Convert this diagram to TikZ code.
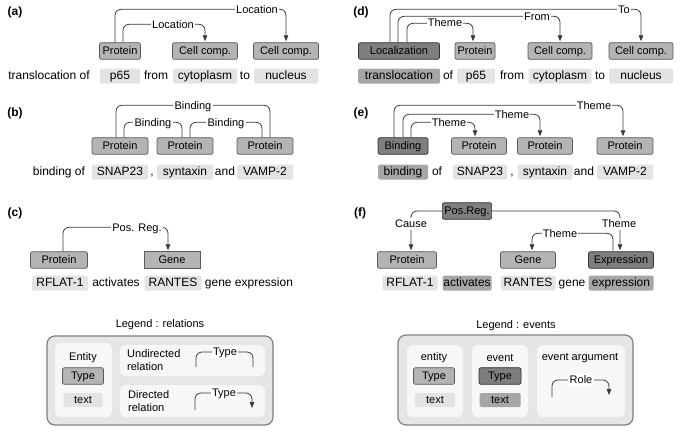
\documentclass[tikz,border=0pt]{standalone}
\usepackage{fontspec}
\setmainfont{Liberation Sans}
\usepackage{tikz}
\usetikzlibrary{arrows.meta,positioning}
\definecolor{entfill}{HTML}{B4B4B4}
\definecolor{evtfill}{HTML}{7E7E7E}
\definecolor{txtfill}{HTML}{E3E3E3}
\definecolor{trgfill}{HTML}{A6A6A6}
\definecolor{legfill}{HTML}{E6E6E6}
\definecolor{arcline}{HTML}{3A3A3A}

\begin{document}
\begin{tikzpicture}[x=1pt, y=-1pt, font=\fontsize{11}{13}\selectfont]
\tikzstyle{ent}=[draw=black!65, line width=0.7pt, fill=entfill, rounded corners=2pt, minimum height=16pt, inner xsep=2pt, text height=8pt, text depth=2pt]
\tikzstyle{evt}=[ent, draw=black!80, fill=evtfill]
\tikzstyle{word}=[font=\fontsize{12}{14}\selectfont, inner sep=0pt, text height=9pt, text depth=2.5pt]
\tikzstyle{txt}=[word, fill=txtfill, rounded corners=1.5pt, minimum height=15pt]
\tikzstyle{trg}=[txt, fill=trgfill]
\tikzstyle{lab}=[fill=white, inner sep=1.2pt, text height=8pt, text depth=2pt]
\tikzstyle{rel}=[draw=arcline, line width=0.8pt, rounded corners=6pt]
\tikzstyle{tip}=[-{Triangle[length=6pt,width=4.5pt]}, shorten >=1pt]
\tikzstyle{plab}=[font=\bfseries\fontsize{12}{14}\selectfont]
\tikzstyle{legbox}=[draw=black!50, fill=legfill, line width=1.2pt, rounded corners=8pt]
\tikzstyle{legpan}=[fill=black!3, rounded corners=6pt]
\useasboundingbox (0,0) rectangle (685,431);

% (a) relations
\node[plab] (pla) at (15,12) {(a)};
\node[ent, minimum width=41pt] (pa) at (120,51) {Protein};
\node[ent, minimum width=65pt] (ca1) at (205,51) {Cell comp.};
\node[ent, minimum width=65pt] (ca2) at (286,51) {Cell comp.};
\node[word] (wa1) at (49,76) {translocation of};
\node[txt, minimum width=40pt] (ta1) at (120,76) {p65};
\node[word] (wa2) at (156,76) {from};
\node[txt, minimum width=64pt] (ta2) at (205,76) {cytoplasm};
\node[word] (wa3) at (245,76) {to};
\node[txt, minimum width=64pt] (ta3) at (286,76) {nucleus};
\draw[rel, tip] ([xshift=-5pt]pa.north) -- ++(0,-33) -| (ca2.north);
\draw[rel, tip] ([xshift=3pt]pa.north) -- ++(0,-18) -| (ca1.north);
\node[lab] at (257,10) {Location};
\node[lab] at (173,25) {Location};

% (d) events
\node[plab] (pld) at (361,12) {(d)};
\node[evt, minimum width=81pt] (loc) at (399,51) {Localization};
\node[ent, minimum width=40pt] (pd) at (475,51) {Protein};
\node[ent, minimum width=64pt] (cd1) at (560,51) {Cell comp.};
\node[ent, minimum width=64pt] (cd2) at (641,51) {Cell comp.};
\node[trg, minimum width=82pt] (td0) at (399,76) {translocation};
\node[word] (wd1) at (448,76) {of};
\node[txt, minimum width=38pt] (td1) at (476,76) {p65};
\node[word] (wd2) at (512,76) {from};
\node[txt, minimum width=63pt] (td2) at (560,76) {cytoplasm};
\node[word] (wd3) at (600,76) {to};
\node[txt, minimum width=64pt] (td3) at (641,76) {nucleus};
\draw[rel, tip] ([xshift=-9pt]loc.north) -- ++(0,-33) -| (cd2.north);
\draw[rel, tip] ([xshift=-1pt]loc.north) -- ++(0,-26) -| (cd1.north);
\draw[rel, tip] ([xshift=8pt]loc.north) -- ++(0,-19) -| ([xshift=-2pt]pd.north);
\node[lab] at (624,10) {To};
\node[lab] at (537,17) {From};
\node[lab] at (445,24) {Theme};

% (b) relations
\node[plab] (plb) at (15,113) {(b)};
\node[ent, minimum width=56pt] (pb1) at (120,146) {Protein};
\node[ent, minimum width=56pt] (pb2) at (185,146) {Protein};
\node[ent, minimum width=56pt] (pb3) at (265,146) {Protein};
\node[word] (wb1) at (59,172) {binding of};
\node[txt, minimum width=56pt] (tb1) at (120,172) {SNAP23};
\node[word] (wb2) at (152,172) {,};
\node[txt, minimum width=56pt] (tb2) at (185,172) {syntaxin};
\node[word] (wb3) at (225,172) {and};
\node[txt, minimum width=56pt] (tb3) at (265,172) {VAMP-2};
\draw[rel] ([xshift=-4pt]pb1.north) -- ++(0,-32) -| ([xshift=5pt]pb3.north);
\draw[rel] ([xshift=4pt]pb1.north) -- ++(0,-15) -| ([xshift=-3pt]pb2.north);
\draw[rel] ([xshift=5pt]pb2.north) -- ++(0,-15) -| ([xshift=-3pt]pb3.north);
\node[lab] at (193,106) {Binding};
\node[lab] at (153,123) {Binding};
\node[lab] at (226,123) {Binding};

% (e) events
\node[plab] (ple) at (361,113) {(e)};
\node[evt, minimum width=50pt] (bind) at (403,146) {Binding};
\node[ent, minimum width=55pt] (pe1) at (479,146) {Protein};
\node[ent, minimum width=55pt] (pe2) at (545,146) {Protein};
\node[ent, minimum width=56pt] (pe3) at (625,146) {Protein};
\node[trg, minimum width=50pt] (te0) at (403,172) {binding};
\node[word] (we1) at (437,172) {of};
\node[txt, minimum width=54pt] (te1) at (480,172) {SNAP23};
\node[word] (we2) at (512,172) {,};
\node[txt, minimum width=55pt] (te2) at (545,172) {syntaxin};
\node[word] (we3) at (584,172) {and};
\node[txt, minimum width=56pt] (te3) at (625,172) {VAMP-2};
\draw[rel, tip] ([xshift=-9pt]bind.north) -- ++(0,-32) -| ([xshift=-2pt]pe3.north);
\draw[rel, tip] (bind.north) -- ++(0,-23) -| ([xshift=-5pt]pe2.north);
\draw[rel, tip] ([xshift=8pt]bind.north) -- ++(0,-15) -| ([xshift=-4pt]pe1.north);
\node[lab] at (594,106) {Theme};
\node[lab] at (512,115) {Theme};
\node[lab] at (449,123) {Theme};

% (c) relations
\node[plab] (plc) at (15,213) {(c)};
\node[ent, minimum width=57pt] (pc) at (59,260) {Protein};
\node[ent, rounded corners=0pt, minimum width=56pt] (gc) at (172,260) {Gene};
\node[txt, minimum width=56pt] (tc1) at (60,283) {RFLAT-1};
\node[word] (wc1) at (116,283) {activates};
\node[txt, minimum width=57pt] (tc2) at (173,283) {RANTES};
\node[word] (wc2) at (249,283) {gene expression};
\draw[rel, tip] ([xshift=4pt]pc.north) -- ++(0,-24) -| ([xshift=-4pt]gc.north);
\node[lab] at (137,228) {Pos. Reg.};

% (f) events
\node[plab] (plf) at (360,213) {(f)};
\node[evt, minimum width=49pt] (preg) at (467,211) {Pos.Reg.};
\node[ent, minimum width=59pt] (pf) at (407,260) {Protein};
\node[ent, minimum width=55pt] (gf) at (528,260) {Gene};
\node[evt, minimum width=65pt] (ex) at (621,260) {Expression};
\node[txt, minimum width=55pt] (tf1) at (410,283) {RFLAT-1};
\node[trg, minimum width=49pt] (tf2) at (467,283) {activates};
\node[txt, minimum width=55pt] (tf3) at (528,283) {RANTES};
\node[word] (wf1) at (572,283) {gene};
\node[trg, minimum width=65pt] (tf4) at (621,283) {expression};
\draw[rel, tip] (preg.west) -| ([xshift=4pt]pf.north);
\draw[rel, tip] (preg.east) -| ([xshift=-1pt]ex.north);
\draw[rel, tip] ([xshift=-8pt]ex.north) -- ++(0,-18) -| ([xshift=4pt]gf.north);
\node[lab] at (411,224) {Cause};
\node[lab] at (619,224) {Theme};
\node[lab] at (560,234) {Theme};

% legend : relations
\node (lrt) at (160,325) {Legend : relations};
\node[legbox, minimum width=226pt, minimum height=89pt] (lr) at (160,380.5) {};
\node[legpan, minimum width=57pt, minimum height=74pt] (lre) at (83.5,380) {};
\node[legpan, minimum width=145pt, minimum height=31pt] (lru) at (192.5,360.5) {};
\node[legpan, minimum width=145pt, minimum height=32pt] (lrd) at (192.5,401) {};
\node (lren) at (83,358) {Entity};
\node[ent, minimum width=41pt] (lrty) at (83,376) {Type};
\node[txt, font=\fontsize{11}{13}\selectfont, minimum width=39pt, minimum height=14pt] (lrtx) at (83,400) {text};
\node[anchor=west, align=left, inner sep=0pt] (lrun) at (127,360) {Undirected\\relation};
\node[anchor=west, align=left, inner sep=0pt] (lrdi) at (128,401) {Directed\\relation};
\coordinate (ua) at (196,367);
\coordinate (ub) at (253,367);
\coordinate (da) at (195,410);
\coordinate (db) at (252,409);
\draw[rel] (ua) -- ++(0,-15) -| (ub);
\draw[rel, tip] (da) -- ++(0,-17) -| (db);
\node[lab] at (225,352) {Type};
\node[lab] at (224,393) {Type};

% legend : events
\node (let) at (516,326) {Legend : events};
\node[legbox, minimum width=235pt, minimum height=90pt] (le) at (515.5,380) {};
\node[legpan, minimum width=56pt, minimum height=72pt] (lee) at (435,381) {};
\node[legpan, minimum width=56pt, minimum height=72pt] (lev) at (500,381) {};
\node[legpan, minimum width=88pt, minimum height=72pt] (lea) at (581,381) {};
\node (leen) at (434,358) {entity};
\node[ent, minimum width=41pt] (lety) at (434,376) {Type};
\node[txt, font=\fontsize{11}{13}\selectfont, minimum width=40pt, minimum height=14pt] (letx) at (435,400) {text};
\node (leev) at (500,358) {event};
\node[evt, minimum width=42pt] (levy) at (500,376) {Type};
\node[trg, font=\fontsize{11}{13}\selectfont, minimum width=41pt, minimum height=14pt] (levx) at (500,400) {text};
\node (leag) at (580,358) {event argument};
\coordinate (ra) at (552,397);
\coordinate (rb) at (609,396);
\draw[rel, tip] (ra) -- ++(0,-17) -| (rb);
\node[lab] at (581,380) {Role};
\end{tikzpicture}
\end{document}
